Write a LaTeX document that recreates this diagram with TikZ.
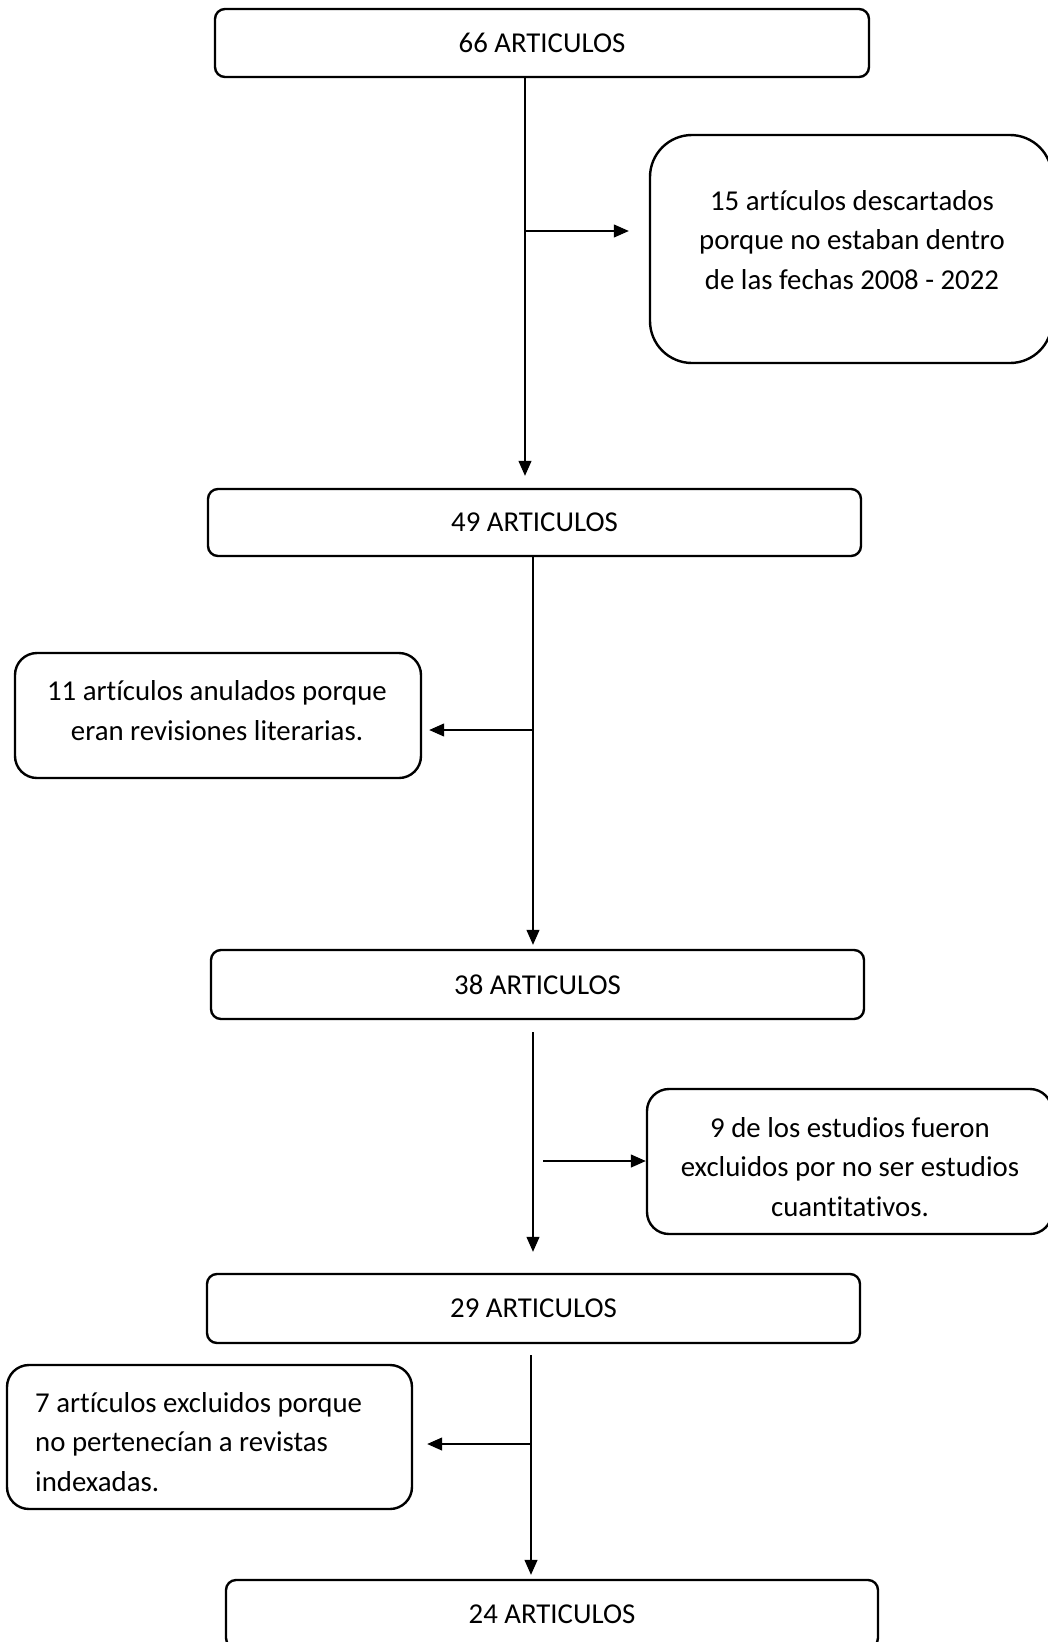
\documentclass[tikz,border=0pt]{standalone}
\usepackage{fontspec}
\setmainfont[RawFeature={-liga;-clig;-dlig}]{Carlito}
\usetikzlibrary{arrows.meta,calc}
\begin{document}
\begin{tikzpicture}[x=1pt,y=-1pt,
  box/.style={draw, line width=2.4pt, rounded corners=10pt, inner sep=0pt},
  bigbox/.style={draw, line width=2.4pt, rounded corners=42pt, inner sep=0pt},
  txt/.style={font=\fontsize{28.8}{39.5}\selectfont, inner sep=0pt},
  conn/.style={line width=1.2pt, -{Triangle[length=15pt,width=13pt]}}]
\useasboundingbox (0,0) rectangle (1048,1642);
\clip (0,0) rectangle (1048,1642);
\fill[white] (0,0) rectangle (1048,1642);
% main boxes
\node[box, txt, minimum width=654pt, minimum height=68pt] (b66) at (542,43) {66 ARTICULOS};
\node[box, txt, minimum width=653pt, minimum height=67pt] (b49) at (534.5,522.5) {49 ARTICULOS};
\node[box, txt, minimum width=653pt, minimum height=69pt] (b38) at (537.5,984.5) {38 ARTICULOS};
\node[box, txt, minimum width=653pt, minimum height=69pt] (b29) at (533.5,1308.5) {29 ARTICULOS};
\node[box, txt, minimum width=652pt, minimum height=68pt] (b24) at (552,1614) {24 ARTICULOS};
% side boxes
\node[bigbox, minimum width=402pt, minimum height=228pt] (b15) at (851,249) {};
\node[txt, align=center] (t15) at (852,240) {15 artículos descartados\\porque no estaban dentro\\de las fechas 2008 - 2022};
\node[box, rounded corners=22pt, minimum width=406pt, minimum height=125pt] (b11) at (218,715.5) {};
\node[txt, align=center] (t11) at (217,710.5) {11 artículos anulados porque\\eran revisiones literarias.};
\node[box, rounded corners=22pt, minimum width=405pt, minimum height=145pt] (b9) at (849.5,1161.5) {};
\node[txt, align=center] (t9) at (850,1167) {9 de los estudios fueron\\excluidos por no ser estudios\\cuantitativos.};
\node[box, rounded corners=22pt, minimum width=405pt, minimum height=144pt] (b7) at (209.5,1437) {};
\node[txt, align=left, anchor=west] (t7) at (35,1442) {7 artículos excluidos porque\\no pertenecían a revistas\\indexadas.};
% junctions
\coordinate (j1) at (525,231);
\coordinate (j2) at (533,730);
\coordinate (j3) at (543,1161);
\coordinate (j4) at (531,1444);
% connectors
\draw[conn] ($(b66.south)+(-17,0)$) -- ($(b49.north)+(-9.5,-12)$);
\draw[conn] (j1) -- ($(b15.west)+(-20,-18)$);
\draw[conn] ($(b49.south)+(-1.5,0)$) -- ($(b38.north)+(-4.5,-4)$);
\draw[conn] (j2) -- ($(b11.east)+(7,14.5)$);
\draw[conn] ($(b38.south)+(-4.5,12)$) -- ($(b29.north)+(-0.5,-21)$);
\draw[conn] (j3) -- ($(b9.west)+(0,-0.5)$);
\draw[conn] ($(b29.south)+(-2.5,11)$) -- ($(b24.north)+(-21,-4)$);
\draw[conn] (j4) -- ($(b7.east)+(14,7)$);
\end{tikzpicture}
\end{document}
